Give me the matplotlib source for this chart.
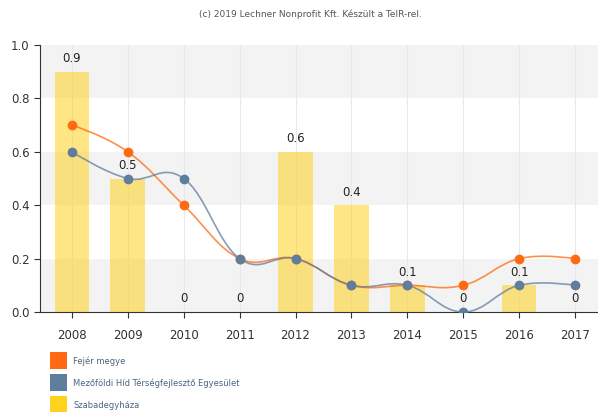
import matplotlib
matplotlib.use("Agg")
import matplotlib.pyplot as plt
from matplotlib.path import Path
from matplotlib.patches import PathPatch, Rectangle

years = [2008, 2009, 2010, 2011, 2012, 2013, 2014, 2015, 2016, 2017]
fejer = [0.7, 0.6, 0.4, 0.2, 0.2, 0.1, 0.1, 0.1, 0.2, 0.2]
mezofoldi = [0.6, 0.5, 0.5, 0.2, 0.2, 0.1, 0.1, 0.0, 0.1, 0.1]
szabad = [0.9, 0.5, 0, 0, 0.6, 0.4, 0.1, 0, 0.1, 0]
bar_labels = ["0.9", "0.5", "0", "0", "0.6", "0.4", "0.1", "0", "0.1", "0"]

names = ["Fejér megye", "Mezőföldi Híd Térségfejlesztő Egyesület", "Szabadegyháza"]
c_orange = "#ff6a13"
c_blue = "#5f7d9c"
c_yellow = "#ffd21f"


def spline_path(xs, ys, smoothing=1.5):
    # bezier control points, no clamping so the curve can overshoot a bit
    denom = smoothing + 1
    verts = [(xs[0], ys[0])]
    codes = [Path.MOVETO]
    ctrl = []
    n = len(xs)
    for i in range(n):
        if i == 0 or i == n - 1:
            ctrl.append((xs[i], ys[i], xs[i], ys[i]))
            continue
        lx, ly = xs[i - 1], ys[i - 1]
        nx, ny = xs[i + 1], ys[i + 1]
        px, py = xs[i], ys[i]
        lcx = (smoothing * px + lx) / denom
        lcy = (smoothing * py + ly) / denom
        rcx = (smoothing * px + nx) / denom
        rcy = (smoothing * py + ny) / denom
        if rcx != lcx:
            corr = ((rcy - lcy) * (rcx - px)) / (rcx - lcx) + py - rcy
            lcy += corr
            rcy += corr
        ctrl.append((lcx, lcy, rcx, rcy))
    for i in range(1, n):
        verts += [(ctrl[i - 1][2], ctrl[i - 1][3]), (ctrl[i][0], ctrl[i][1]), (xs[i], ys[i])]
        codes += [Path.CURVE4] * 3
    return Path(verts, codes)


fig = plt.figure(figsize=(5.98, 4.12), dpi=100)
ax = fig.add_axes([40 / 598, 100 / 412, 558 / 598, 267 / 412])

x = list(range(len(years)))
ax.set_xlim(-0.57, 9.41)
ax.set_ylim(0, 1.0)

# alternating bands
for lo in [0.0, 0.4, 0.8]:
    ax.axhspan(lo, lo + 0.2, color="#f3f3f3", zorder=0, lw=0)
for xi in x:
    ax.axvline(xi, color="#e8e8e8", lw=0.8, zorder=0.5)

ax.bar(x, szabad, width=0.62, color=c_yellow, alpha=0.55, zorder=1)
for xi, v, lab in zip(x, szabad, bar_labels):
    ax.text(xi, v + 0.025, lab, ha="center", va="bottom", fontsize=8.5, color="#222222", zorder=5)

for ys, col in [(fejer, c_orange), (mezofoldi, c_blue)]:
    ax.add_patch(PathPatch(spline_path(x, ys), fill=False, edgecolor=col, lw=1.2, alpha=0.75, zorder=3))
    ax.plot(x, ys, ls="none", marker="o", ms=6, color=col, zorder=4)

ax.set_xticks(x)
ax.set_xticklabels([str(y) for y in years], fontsize=8.5)
ax.set_yticks([0.0, 0.2, 0.4, 0.6, 0.8, 1.0])
ax.set_yticklabels(["0.0", "0.2", "0.4", "0.6", "0.8", "1.0"], fontsize=8.5)
ax.tick_params(axis="both", colors="#333333", length=4, width=0.8)
ax.tick_params(axis="x", pad=8)
for s in ["top", "right"]:
    ax.spines[s].set_visible(False)
ax.spines["left"].set_color("#333333")
ax.spines["bottom"].set_color("#333333")

fig.text(310 / 598, 1 - 14 / 412, "(c) 2019 Lechner Nonprofit Kft. Készült a TeIR-rel.",
         ha="center", va="center", fontsize=6.5, color="#555555")

# legend
for i, (name, col) in enumerate(zip(names, [c_orange, c_blue, c_yellow])):
    top = 352 + i * 22
    fig.patches.append(Rectangle((50 / 598, 1 - (top + 17) / 412), 17 / 598, 17 / 412,
                                 transform=fig.transFigure, color=col, lw=0))
    fig.text(73 / 598, 1 - (top + 9) / 412, name, ha="left", va="center", fontsize=6, color="#4a6580")

fig.savefig("out.png", dpi=100)
